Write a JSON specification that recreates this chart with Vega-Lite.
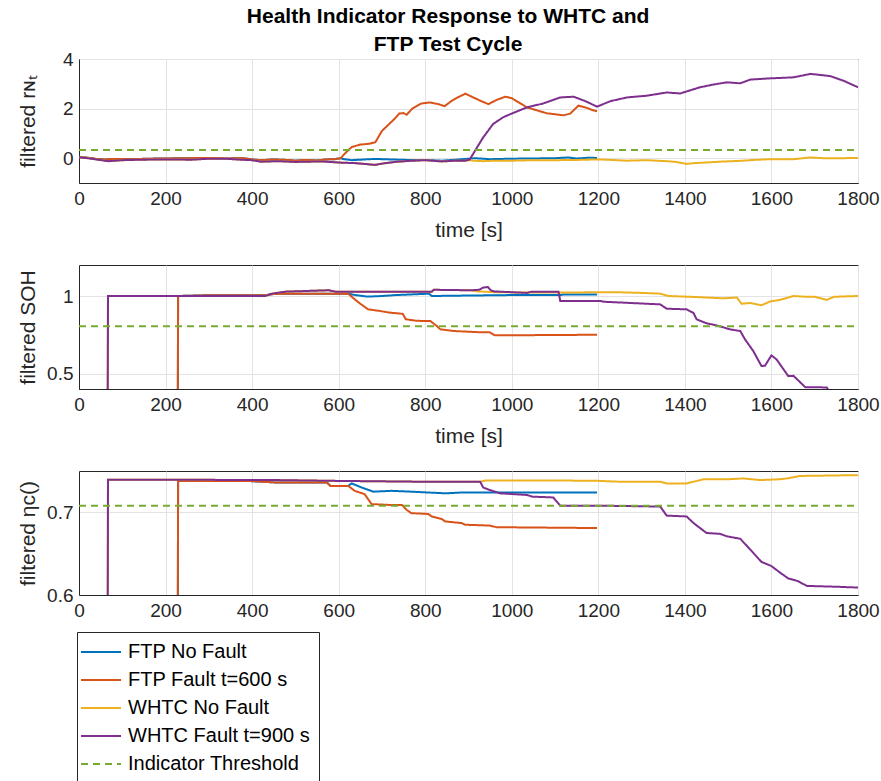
{
  "$schema": "https://vega.github.io/schema/vega-lite/v6.json",
  "padding": {"left": 16, "top": 5, "right": 2, "bottom": 0},
  "title": {"text": ["Health Indicator Response to WHTC and", "FTP Test Cycle"], "font": "Liberation Sans", "fontSize": 21, "fontWeight": "bold", "color": "black", "anchor": "middle", "lineHeight": 28, "offset": -5},
  "datasets": {
    "p1": [
      {"s":"FTP No Fault","t":0,"v":0.04},{"s":"FTP No Fault","t":20,"v":0.02},{"s":"FTP No Fault","t":40,"v":-0.03},{"s":"FTP No Fault","t":60,"v":-0.05},{"s":"FTP No Fault","t":80,"v":-0.03},{"s":"FTP No Fault","t":120,"v":-0.04},{"s":"FTP No Fault","t":160,"v":-0.02},{"s":"FTP No Fault","t":200,"v":-0.01},{"s":"FTP No Fault","t":250,"v":0.0},{"s":"FTP No Fault","t":300,"v":0.01},{"s":"FTP No Fault","t":340,"v":-0.01},{"s":"FTP No Fault","t":380,"v":0.0},{"s":"FTP No Fault","t":400,"v":-0.05},{"s":"FTP No Fault","t":420,"v":-0.08},{"s":"FTP No Fault","t":450,"v":-0.05},{"s":"FTP No Fault","t":480,"v":-0.07},{"s":"FTP No Fault","t":500,"v":-0.1},{"s":"FTP No Fault","t":520,"v":-0.07},{"s":"FTP No Fault","t":550,"v":-0.09},{"s":"FTP No Fault","t":570,"v":-0.05},{"s":"FTP No Fault","t":590,"v":-0.04},{"s":"FTP No Fault","t":605,"v":0.0},{"s":"FTP No Fault","t":610,"v":-0.03},{"s":"FTP No Fault","t":630,"v":-0.08},{"s":"FTP No Fault","t":660,"v":-0.05},{"s":"FTP No Fault","t":684,"v":-0.03},{"s":"FTP No Fault","t":720,"v":-0.05},{"s":"FTP No Fault","t":760,"v":-0.07},{"s":"FTP No Fault","t":800,"v":-0.07},{"s":"FTP No Fault","t":838,"v":-0.1},{"s":"FTP No Fault","t":870,"v":-0.06},{"s":"FTP No Fault","t":915,"v":0.0},{"s":"FTP No Fault","t":950,"v":-0.04},{"s":"FTP No Fault","t":1000,"v":-0.02},{"s":"FTP No Fault","t":1050,"v":-0.01},{"s":"FTP No Fault","t":1100,"v":0.0},{"s":"FTP No Fault","t":1130,"v":0.03},{"s":"FTP No Fault","t":1150,"v":-0.01},{"s":"FTP No Fault","t":1180,"v":0.02},{"s":"FTP No Fault","t":1197,"v":0.01},
      {"s":"FTP Fault t=600 s","t":0,"v":0.04},{"s":"FTP Fault t=600 s","t":20,"v":0.02},{"s":"FTP Fault t=600 s","t":40,"v":-0.03},{"s":"FTP Fault t=600 s","t":60,"v":-0.05},{"s":"FTP Fault t=600 s","t":80,"v":-0.03},{"s":"FTP Fault t=600 s","t":120,"v":-0.04},{"s":"FTP Fault t=600 s","t":160,"v":-0.02},{"s":"FTP Fault t=600 s","t":200,"v":-0.01},{"s":"FTP Fault t=600 s","t":250,"v":0.0},{"s":"FTP Fault t=600 s","t":300,"v":0.01},{"s":"FTP Fault t=600 s","t":340,"v":-0.01},{"s":"FTP Fault t=600 s","t":380,"v":0.0},{"s":"FTP Fault t=600 s","t":400,"v":-0.05},{"s":"FTP Fault t=600 s","t":420,"v":-0.08},{"s":"FTP Fault t=600 s","t":450,"v":-0.05},{"s":"FTP Fault t=600 s","t":480,"v":-0.07},{"s":"FTP Fault t=600 s","t":500,"v":-0.1},{"s":"FTP Fault t=600 s","t":520,"v":-0.07},{"s":"FTP Fault t=600 s","t":550,"v":-0.09},{"s":"FTP Fault t=600 s","t":570,"v":-0.05},{"s":"FTP Fault t=600 s","t":590,"v":-0.04},{"s":"FTP Fault t=600 s","t":605,"v":0.0},{"s":"FTP Fault t=600 s","t":615,"v":0.2},{"s":"FTP Fault t=600 s","t":630,"v":0.45},{"s":"FTP Fault t=600 s","t":650,"v":0.55},{"s":"FTP Fault t=600 s","t":670,"v":0.58},{"s":"FTP Fault t=600 s","t":685,"v":0.65},{"s":"FTP Fault t=600 s","t":700,"v":1.1},{"s":"FTP Fault t=600 s","t":715,"v":1.35},{"s":"FTP Fault t=600 s","t":730,"v":1.6},{"s":"FTP Fault t=600 s","t":740,"v":1.8},{"s":"FTP Fault t=600 s","t":750,"v":1.82},{"s":"FTP Fault t=600 s","t":757,"v":1.75},{"s":"FTP Fault t=600 s","t":770,"v":2.0},{"s":"FTP Fault t=600 s","t":790,"v":2.2},{"s":"FTP Fault t=600 s","t":810,"v":2.25},{"s":"FTP Fault t=600 s","t":830,"v":2.18},{"s":"FTP Fault t=600 s","t":845,"v":2.1},{"s":"FTP Fault t=600 s","t":860,"v":2.3},{"s":"FTP Fault t=600 s","t":875,"v":2.45},{"s":"FTP Fault t=600 s","t":893,"v":2.6},{"s":"FTP Fault t=600 s","t":905,"v":2.5},{"s":"FTP Fault t=600 s","t":927,"v":2.32},{"s":"FTP Fault t=600 s","t":946,"v":2.18},{"s":"FTP Fault t=600 s","t":965,"v":2.35},{"s":"FTP Fault t=600 s","t":985,"v":2.48},{"s":"FTP Fault t=600 s","t":1000,"v":2.42},{"s":"FTP Fault t=600 s","t":1035,"v":2.05},{"s":"FTP Fault t=600 s","t":1060,"v":1.92},{"s":"FTP Fault t=600 s","t":1081,"v":1.81},{"s":"FTP Fault t=600 s","t":1120,"v":1.73},{"s":"FTP Fault t=600 s","t":1135,"v":1.8},{"s":"FTP Fault t=600 s","t":1154,"v":2.12},{"s":"FTP Fault t=600 s","t":1170,"v":2.05},{"s":"FTP Fault t=600 s","t":1185,"v":1.95},{"s":"FTP Fault t=600 s","t":1197,"v":1.89},
      {"s":"WHTC No Fault","t":0,"v":0.04},{"s":"WHTC No Fault","t":20,"v":0.0},{"s":"WHTC No Fault","t":40,"v":-0.05},{"s":"WHTC No Fault","t":68,"v":-0.12},{"s":"WHTC No Fault","t":100,"v":-0.08},{"s":"WHTC No Fault","t":144,"v":-0.06},{"s":"WHTC No Fault","t":200,"v":-0.05},{"s":"WHTC No Fault","t":260,"v":-0.06},{"s":"WHTC No Fault","t":300,"v":-0.02},{"s":"WHTC No Fault","t":337,"v":-0.02},{"s":"WHTC No Fault","t":375,"v":-0.06},{"s":"WHTC No Fault","t":400,"v":-0.08},{"s":"WHTC No Fault","t":421,"v":-0.14},{"s":"WHTC No Fault","t":460,"v":-0.12},{"s":"WHTC No Fault","t":500,"v":-0.15},{"s":"WHTC No Fault","t":529,"v":-0.14},{"s":"WHTC No Fault","t":560,"v":-0.13},{"s":"WHTC No Fault","t":607,"v":-0.18},{"s":"WHTC No Fault","t":640,"v":-0.2},{"s":"WHTC No Fault","t":684,"v":-0.27},{"s":"WHTC No Fault","t":700,"v":-0.22},{"s":"WHTC No Fault","t":730,"v":-0.15},{"s":"WHTC No Fault","t":761,"v":-0.11},{"s":"WHTC No Fault","t":800,"v":-0.08},{"s":"WHTC No Fault","t":838,"v":-0.13},{"s":"WHTC No Fault","t":870,"v":-0.1},{"s":"WHTC No Fault","t":892,"v":-0.1},{"s":"WHTC No Fault","t":903,"v":-0.08},{"s":"WHTC No Fault","t":910,"v":-0.1},{"s":"WHTC No Fault","t":934,"v":-0.12},{"s":"WHTC No Fault","t":960,"v":-0.1},{"s":"WHTC No Fault","t":1000,"v":-0.1},{"s":"WHTC No Fault","t":1050,"v":-0.08},{"s":"WHTC No Fault","t":1100,"v":-0.08},{"s":"WHTC No Fault","t":1150,"v":-0.07},{"s":"WHTC No Fault","t":1197,"v":-0.05},{"s":"WHTC No Fault","t":1220,"v":-0.06},{"s":"WHTC No Fault","t":1266,"v":-0.1},{"s":"WHTC No Fault","t":1312,"v":-0.08},{"s":"WHTC No Fault","t":1358,"v":-0.12},{"s":"WHTC No Fault","t":1380,"v":-0.15},{"s":"WHTC No Fault","t":1404,"v":-0.23},{"s":"WHTC No Fault","t":1420,"v":-0.2},{"s":"WHTC No Fault","t":1443,"v":-0.18},{"s":"WHTC No Fault","t":1481,"v":-0.14},{"s":"WHTC No Fault","t":1535,"v":-0.1},{"s":"WHTC No Fault","t":1560,"v":-0.07},{"s":"WHTC No Fault","t":1597,"v":-0.04},{"s":"WHTC No Fault","t":1651,"v":-0.04},{"s":"WHTC No Fault","t":1690,"v":0.03},{"s":"WHTC No Fault","t":1720,"v":0.0},{"s":"WHTC No Fault","t":1760,"v":0.0},{"s":"WHTC No Fault","t":1800,"v":0.01},
      {"s":"WHTC Fault t=900 s","t":0,"v":0.04},{"s":"WHTC Fault t=900 s","t":20,"v":0.0},{"s":"WHTC Fault t=900 s","t":40,"v":-0.05},{"s":"WHTC Fault t=900 s","t":68,"v":-0.12},{"s":"WHTC Fault t=900 s","t":100,"v":-0.08},{"s":"WHTC Fault t=900 s","t":144,"v":-0.06},{"s":"WHTC Fault t=900 s","t":200,"v":-0.05},{"s":"WHTC Fault t=900 s","t":260,"v":-0.06},{"s":"WHTC Fault t=900 s","t":300,"v":-0.02},{"s":"WHTC Fault t=900 s","t":337,"v":-0.02},{"s":"WHTC Fault t=900 s","t":375,"v":-0.06},{"s":"WHTC Fault t=900 s","t":400,"v":-0.08},{"s":"WHTC Fault t=900 s","t":421,"v":-0.14},{"s":"WHTC Fault t=900 s","t":460,"v":-0.12},{"s":"WHTC Fault t=900 s","t":500,"v":-0.15},{"s":"WHTC Fault t=900 s","t":529,"v":-0.14},{"s":"WHTC Fault t=900 s","t":560,"v":-0.13},{"s":"WHTC Fault t=900 s","t":607,"v":-0.18},{"s":"WHTC Fault t=900 s","t":640,"v":-0.2},{"s":"WHTC Fault t=900 s","t":684,"v":-0.27},{"s":"WHTC Fault t=900 s","t":700,"v":-0.22},{"s":"WHTC Fault t=900 s","t":730,"v":-0.15},{"s":"WHTC Fault t=900 s","t":761,"v":-0.11},{"s":"WHTC Fault t=900 s","t":800,"v":-0.08},{"s":"WHTC Fault t=900 s","t":838,"v":-0.13},{"s":"WHTC Fault t=900 s","t":870,"v":-0.1},{"s":"WHTC Fault t=900 s","t":892,"v":-0.1},{"s":"WHTC Fault t=900 s","t":903,"v":-0.05},{"s":"WHTC Fault t=900 s","t":915,"v":0.3},{"s":"WHTC Fault t=900 s","t":934,"v":0.84},{"s":"WHTC Fault t=900 s","t":957,"v":1.38},{"s":"WHTC Fault t=900 s","t":980,"v":1.65},{"s":"WHTC Fault t=900 s","t":1000,"v":1.8},{"s":"WHTC Fault t=900 s","t":1035,"v":2.05},{"s":"WHTC Fault t=900 s","t":1073,"v":2.21},{"s":"WHTC Fault t=900 s","t":1112,"v":2.45},{"s":"WHTC Fault t=900 s","t":1143,"v":2.48},{"s":"WHTC Fault t=900 s","t":1170,"v":2.3},{"s":"WHTC Fault t=900 s","t":1197,"v":2.08},{"s":"WHTC Fault t=900 s","t":1228,"v":2.3},{"s":"WHTC Fault t=900 s","t":1266,"v":2.45},{"s":"WHTC Fault t=900 s","t":1312,"v":2.52},{"s":"WHTC Fault t=900 s","t":1358,"v":2.65},{"s":"WHTC Fault t=900 s","t":1389,"v":2.61},{"s":"WHTC Fault t=900 s","t":1435,"v":2.86},{"s":"WHTC Fault t=900 s","t":1466,"v":2.97},{"s":"WHTC Fault t=900 s","t":1497,"v":3.06},{"s":"WHTC Fault t=900 s","t":1528,"v":3.02},{"s":"WHTC Fault t=900 s","t":1551,"v":3.17},{"s":"WHTC Fault t=900 s","t":1597,"v":3.22},{"s":"WHTC Fault t=900 s","t":1651,"v":3.26},{"s":"WHTC Fault t=900 s","t":1690,"v":3.4},{"s":"WHTC Fault t=900 s","t":1736,"v":3.31},{"s":"WHTC Fault t=900 s","t":1767,"v":3.12},{"s":"WHTC Fault t=900 s","t":1800,"v":2.86},
      {"s":"Indicator Threshold","t":0,"v":0.33},{"s":"Indicator Threshold","t":1800,"v":0.33}
    ],
    "p2": [
      {"s":"FTP No Fault","t":0,"v":0},{"s":"FTP No Fault","t":228,"v":0},{"s":"FTP No Fault","t":229,"v":1.0},{"s":"FTP No Fault","t":300,"v":1.005},{"s":"FTP No Fault","t":430,"v":1.005},{"s":"FTP No Fault","t":446,"v":1.012},{"s":"FTP No Fault","t":477,"v":1.015},{"s":"FTP No Fault","t":622,"v":1.015},{"s":"FTP No Fault","t":640,"v":1.005},{"s":"FTP No Fault","t":668,"v":0.996},{"s":"FTP No Fault","t":700,"v":1.0},{"s":"FTP No Fault","t":732,"v":1.006},{"s":"FTP No Fault","t":809,"v":1.015},{"s":"FTP No Fault","t":815,"v":1.0},{"s":"FTP No Fault","t":900,"v":1.003},{"s":"FTP No Fault","t":1000,"v":1.006},{"s":"FTP No Fault","t":1112,"v":1.006},{"s":"FTP No Fault","t":1120,"v":1.01},{"s":"FTP No Fault","t":1197,"v":1.01},
      {"s":"FTP Fault t=600 s","t":0,"v":0},{"s":"FTP Fault t=600 s","t":228,"v":0},{"s":"FTP Fault t=600 s","t":229,"v":1.0},{"s":"FTP Fault t=600 s","t":300,"v":1.005},{"s":"FTP Fault t=600 s","t":430,"v":1.005},{"s":"FTP Fault t=600 s","t":446,"v":1.012},{"s":"FTP Fault t=600 s","t":477,"v":1.015},{"s":"FTP Fault t=600 s","t":622,"v":1.015},{"s":"FTP Fault t=600 s","t":637,"v":0.979},{"s":"FTP Fault t=600 s","t":650,"v":0.95},{"s":"FTP Fault t=600 s","t":668,"v":0.914},{"s":"FTP Fault t=600 s","t":694,"v":0.904},{"s":"FTP Fault t=600 s","t":717,"v":0.893},{"s":"FTP Fault t=600 s","t":748,"v":0.885},{"s":"FTP Fault t=600 s","t":755,"v":0.85},{"s":"FTP Fault t=600 s","t":780,"v":0.84},{"s":"FTP Fault t=600 s","t":812,"v":0.838},{"s":"FTP Fault t=600 s","t":827,"v":0.806},{"s":"FTP Fault t=600 s","t":835,"v":0.785},{"s":"FTP Fault t=600 s","t":866,"v":0.774},{"s":"FTP Fault t=600 s","t":920,"v":0.767},{"s":"FTP Fault t=600 s","t":949,"v":0.766},{"s":"FTP Fault t=600 s","t":961,"v":0.746},{"s":"FTP Fault t=600 s","t":1197,"v":0.75},
      {"s":"WHTC No Fault","t":0,"v":0},{"s":"WHTC No Fault","t":66,"v":0},{"s":"WHTC No Fault","t":67,"v":1.0},{"s":"WHTC No Fault","t":430,"v":1.0},{"s":"WHTC No Fault","t":446,"v":1.015},{"s":"WHTC No Fault","t":477,"v":1.028},{"s":"WHTC No Fault","t":577,"v":1.037},{"s":"WHTC No Fault","t":592,"v":1.028},{"s":"WHTC No Fault","t":815,"v":1.028},{"s":"WHTC No Fault","t":820,"v":1.04},{"s":"WHTC No Fault","t":905,"v":1.037},{"s":"WHTC No Fault","t":920,"v":1.03},{"s":"WHTC No Fault","t":957,"v":1.025},{"s":"WHTC No Fault","t":1035,"v":1.022},{"s":"WHTC No Fault","t":1112,"v":1.022},{"s":"WHTC No Fault","t":1235,"v":1.025},{"s":"WHTC No Fault","t":1300,"v":1.02},{"s":"WHTC No Fault","t":1343,"v":1.015},{"s":"WHTC No Fault","t":1362,"v":1.0},{"s":"WHTC No Fault","t":1420,"v":0.994},{"s":"WHTC No Fault","t":1489,"v":0.985},{"s":"WHTC No Fault","t":1520,"v":0.99},{"s":"WHTC No Fault","t":1531,"v":0.95},{"s":"WHTC No Fault","t":1551,"v":0.955},{"s":"WHTC No Fault","t":1577,"v":0.94},{"s":"WHTC No Fault","t":1597,"v":0.965},{"s":"WHTC No Fault","t":1620,"v":0.975},{"s":"WHTC No Fault","t":1651,"v":1.0},{"s":"WHTC No Fault","t":1680,"v":0.995},{"s":"WHTC No Fault","t":1700,"v":0.995},{"s":"WHTC No Fault","t":1728,"v":0.975},{"s":"WHTC No Fault","t":1745,"v":0.995},{"s":"WHTC No Fault","t":1800,"v":1.0},
      {"s":"WHTC Fault t=900 s","t":0,"v":0},{"s":"WHTC Fault t=900 s","t":66,"v":0},{"s":"WHTC Fault t=900 s","t":67,"v":1.0},{"s":"WHTC Fault t=900 s","t":430,"v":1.0},{"s":"WHTC Fault t=900 s","t":446,"v":1.015},{"s":"WHTC Fault t=900 s","t":477,"v":1.028},{"s":"WHTC Fault t=900 s","t":577,"v":1.037},{"s":"WHTC Fault t=900 s","t":592,"v":1.028},{"s":"WHTC Fault t=900 s","t":815,"v":1.028},{"s":"WHTC Fault t=900 s","t":820,"v":1.04},{"s":"WHTC Fault t=900 s","t":905,"v":1.037},{"s":"WHTC Fault t=900 s","t":925,"v":1.04},{"s":"WHTC Fault t=900 s","t":934,"v":1.054},{"s":"WHTC Fault t=900 s","t":945,"v":1.058},{"s":"WHTC Fault t=900 s","t":950,"v":1.04},{"s":"WHTC Fault t=900 s","t":957,"v":1.03},{"s":"WHTC Fault t=900 s","t":1035,"v":1.02},{"s":"WHTC Fault t=900 s","t":1045,"v":1.028},{"s":"WHTC Fault t=900 s","t":1108,"v":1.028},{"s":"WHTC Fault t=900 s","t":1112,"v":0.968},{"s":"WHTC Fault t=900 s","t":1205,"v":0.968},{"s":"WHTC Fault t=900 s","t":1212,"v":0.963},{"s":"WHTC Fault t=900 s","t":1343,"v":0.946},{"s":"WHTC Fault t=900 s","t":1358,"v":0.918},{"s":"WHTC Fault t=900 s","t":1404,"v":0.914},{"s":"WHTC Fault t=900 s","t":1420,"v":0.89},{"s":"WHTC Fault t=900 s","t":1427,"v":0.85},{"s":"WHTC Fault t=900 s","t":1450,"v":0.824},{"s":"WHTC Fault t=900 s","t":1474,"v":0.81},{"s":"WHTC Fault t=900 s","t":1504,"v":0.785},{"s":"WHTC Fault t=900 s","t":1528,"v":0.774},{"s":"WHTC Fault t=900 s","t":1539,"v":0.72},{"s":"WHTC Fault t=900 s","t":1558,"v":0.645},{"s":"WHTC Fault t=900 s","t":1577,"v":0.548},{"s":"WHTC Fault t=900 s","t":1585,"v":0.55},{"s":"WHTC Fault t=900 s","t":1600,"v":0.617},{"s":"WHTC Fault t=900 s","t":1612,"v":0.59},{"s":"WHTC Fault t=900 s","t":1639,"v":0.483},{"s":"WHTC Fault t=900 s","t":1651,"v":0.485},{"s":"WHTC Fault t=900 s","t":1678,"v":0.412},{"s":"WHTC Fault t=900 s","t":1728,"v":0.41},{"s":"WHTC Fault t=900 s","t":1740,"v":0.35},{"s":"WHTC Fault t=900 s","t":1800,"v":0.3},
      {"s":"Indicator Threshold","t":0,"v":0.805},{"s":"Indicator Threshold","t":1800,"v":0.805}
    ],
    "p3": [
      {"s":"FTP No Fault","t":0,"v":0.5},{"s":"FTP No Fault","t":228,"v":0.5},{"s":"FTP No Fault","t":229,"v":0.738},{"s":"FTP No Fault","t":389,"v":0.738},{"s":"FTP No Fault","t":458,"v":0.736},{"s":"FTP No Fault","t":573,"v":0.736},{"s":"FTP No Fault","t":581,"v":0.732},{"s":"FTP No Fault","t":622,"v":0.732},{"s":"FTP No Fault","t":630,"v":0.735},{"s":"FTP No Fault","t":653,"v":0.73},{"s":"FTP No Fault","t":680,"v":0.725},{"s":"FTP No Fault","t":722,"v":0.726},{"s":"FTP No Fault","t":768,"v":0.725},{"s":"FTP No Fault","t":846,"v":0.723},{"s":"FTP No Fault","t":884,"v":0.724},{"s":"FTP No Fault","t":1000,"v":0.724},{"s":"FTP No Fault","t":1197,"v":0.724},
      {"s":"FTP Fault t=600 s","t":0,"v":0.5},{"s":"FTP Fault t=600 s","t":228,"v":0.5},{"s":"FTP Fault t=600 s","t":229,"v":0.738},{"s":"FTP Fault t=600 s","t":389,"v":0.738},{"s":"FTP Fault t=600 s","t":458,"v":0.736},{"s":"FTP Fault t=600 s","t":573,"v":0.736},{"s":"FTP Fault t=600 s","t":581,"v":0.732},{"s":"FTP Fault t=600 s","t":622,"v":0.732},{"s":"FTP Fault t=600 s","t":637,"v":0.726},{"s":"FTP Fault t=600 s","t":660,"v":0.722},{"s":"FTP Fault t=600 s","t":676,"v":0.71},{"s":"FTP Fault t=600 s","t":715,"v":0.709},{"s":"FTP Fault t=600 s","t":746,"v":0.709},{"s":"FTP Fault t=600 s","t":757,"v":0.703},{"s":"FTP Fault t=600 s","t":768,"v":0.699},{"s":"FTP Fault t=600 s","t":807,"v":0.698},{"s":"FTP Fault t=600 s","t":815,"v":0.695},{"s":"FTP Fault t=600 s","t":838,"v":0.692},{"s":"FTP Fault t=600 s","t":846,"v":0.689},{"s":"FTP Fault t=600 s","t":884,"v":0.687},{"s":"FTP Fault t=600 s","t":892,"v":0.685},{"s":"FTP Fault t=600 s","t":949,"v":0.684},{"s":"FTP Fault t=600 s","t":965,"v":0.682},{"s":"FTP Fault t=600 s","t":1197,"v":0.681},
      {"s":"WHTC No Fault","t":0,"v":0.5},{"s":"WHTC No Fault","t":66,"v":0.5},{"s":"WHTC No Fault","t":67,"v":0.7394},{"s":"WHTC No Fault","t":430,"v":0.7392},{"s":"WHTC No Fault","t":600,"v":0.738},{"s":"WHTC No Fault","t":800,"v":0.737},{"s":"WHTC No Fault","t":927,"v":0.737},{"s":"WHTC No Fault","t":940,"v":0.7386},{"s":"WHTC No Fault","t":1189,"v":0.7383},{"s":"WHTC No Fault","t":1251,"v":0.737},{"s":"WHTC No Fault","t":1343,"v":0.737},{"s":"WHTC No Fault","t":1358,"v":0.735},{"s":"WHTC No Fault","t":1404,"v":0.735},{"s":"WHTC No Fault","t":1443,"v":0.74},{"s":"WHTC No Fault","t":1497,"v":0.74},{"s":"WHTC No Fault","t":1535,"v":0.741},{"s":"WHTC No Fault","t":1574,"v":0.739},{"s":"WHTC No Fault","t":1620,"v":0.74},{"s":"WHTC No Fault","t":1636,"v":0.741},{"s":"WHTC No Fault","t":1666,"v":0.744},{"s":"WHTC No Fault","t":1800,"v":0.745},
      {"s":"WHTC Fault t=900 s","t":0,"v":0.5},{"s":"WHTC Fault t=900 s","t":66,"v":0.5},{"s":"WHTC Fault t=900 s","t":67,"v":0.7394},{"s":"WHTC Fault t=900 s","t":430,"v":0.7392},{"s":"WHTC Fault t=900 s","t":600,"v":0.738},{"s":"WHTC Fault t=900 s","t":800,"v":0.737},{"s":"WHTC Fault t=900 s","t":927,"v":0.737},{"s":"WHTC Fault t=900 s","t":934,"v":0.73},{"s":"WHTC Fault t=900 s","t":949,"v":0.727},{"s":"WHTC Fault t=900 s","t":973,"v":0.723},{"s":"WHTC Fault t=900 s","t":1035,"v":0.721},{"s":"WHTC Fault t=900 s","t":1047,"v":0.719},{"s":"WHTC Fault t=900 s","t":1096,"v":0.718},{"s":"WHTC Fault t=900 s","t":1112,"v":0.708},{"s":"WHTC Fault t=900 s","t":1212,"v":0.708},{"s":"WHTC Fault t=900 s","t":1343,"v":0.707},{"s":"WHTC Fault t=900 s","t":1358,"v":0.696},{"s":"WHTC Fault t=900 s","t":1404,"v":0.695},{"s":"WHTC Fault t=900 s","t":1420,"v":0.687},{"s":"WHTC Fault t=900 s","t":1450,"v":0.675},{"s":"WHTC Fault t=900 s","t":1481,"v":0.674},{"s":"WHTC Fault t=900 s","t":1497,"v":0.671},{"s":"WHTC Fault t=900 s","t":1528,"v":0.668},{"s":"WHTC Fault t=900 s","t":1551,"v":0.655},{"s":"WHTC Fault t=900 s","t":1577,"v":0.64},{"s":"WHTC Fault t=900 s","t":1600,"v":0.635},{"s":"WHTC Fault t=900 s","t":1620,"v":0.627},{"s":"WHTC Fault t=900 s","t":1639,"v":0.62},{"s":"WHTC Fault t=900 s","t":1660,"v":0.617},{"s":"WHTC Fault t=900 s","t":1682,"v":0.611},{"s":"WHTC Fault t=900 s","t":1750,"v":0.61},{"s":"WHTC Fault t=900 s","t":1800,"v":0.609},
      {"s":"Indicator Threshold","t":0,"v":0.708},{"s":"Indicator Threshold","t":1800,"v":0.708}
    ]
  },
  "spacing": 23,
  "vconcat": [
    {
      "width": 779, "height": 124,
      "data": {"name": "p1"},
      "encoding": {
        "x": {"field": "t", "type": "quantitative", "scale": {"domain": [0, 1800], "nice": false}, "axis": {"values": [0,200,400,600,800,1000,1200,1400,1600,1800], "format": "d", "title": "time [s]"}},
        "y": {"field": "v", "type": "quantitative", "scale": {"domain": [-1, 4], "nice": false, "zero": false}, "axis": {"values": [0, 2, 4], "format": "~g", "title": "filtered rɴₜ"}},
        "color": {"field": "s", "type": "nominal", "scale": {"domain": ["FTP No Fault","FTP Fault t=600 s","WHTC No Fault","WHTC Fault t=900 s","Indicator Threshold"], "range": ["#0072BD","#D95319","#EDB120","#7E2F8E","#77AC30"]}, "legend": {"title": null}},
        "strokeDash": {"field": "s", "type": "nominal", "scale": {"domain": ["FTP No Fault","FTP Fault t=600 s","WHTC No Fault","WHTC Fault t=900 s","Indicator Threshold"], "range": [[1,0],[1,0],[1,0],[1,0],[7,5]]}, "legend": {"title": null}}
      },
      "layer": [
        {"transform": [{"filter": "datum.s === 'FTP No Fault'"}], "mark": {"type": "line", "clip": true, "strokeWidth": 2}},
        {"transform": [{"filter": "datum.s === 'FTP Fault t=600 s'"}], "mark": {"type": "line", "clip": true, "strokeWidth": 2}},
        {"transform": [{"filter": "datum.s === 'WHTC No Fault'"}], "mark": {"type": "line", "clip": true, "strokeWidth": 2}},
        {"transform": [{"filter": "datum.s === 'WHTC Fault t=900 s'"}], "mark": {"type": "line", "clip": true, "strokeWidth": 2}},
        {"transform": [{"filter": "datum.s === 'Indicator Threshold'"}], "mark": {"type": "line", "clip": true, "strokeWidth": 2}}
      ]
    },
    {
      "width": 779, "height": 124,
      "data": {"name": "p2"},
      "encoding": {
        "x": {"field": "t", "type": "quantitative", "scale": {"domain": [0, 1800], "nice": false}, "axis": {"values": [0,200,400,600,800,1000,1200,1400,1600,1800], "format": "d", "title": "time [s]"}},
        "y": {"field": "v", "type": "quantitative", "scale": {"domain": [0.4, 1.2], "nice": false, "zero": false}, "axis": {"values": [0.5, 1], "format": "~g", "title": "filtered SOH"}},
        "color": {"field": "s", "type": "nominal", "scale": {"domain": ["FTP No Fault","FTP Fault t=600 s","WHTC No Fault","WHTC Fault t=900 s","Indicator Threshold"], "range": ["#0072BD","#D95319","#EDB120","#7E2F8E","#77AC30"]}, "legend": {"title": null}},
        "strokeDash": {"field": "s", "type": "nominal", "scale": {"domain": ["FTP No Fault","FTP Fault t=600 s","WHTC No Fault","WHTC Fault t=900 s","Indicator Threshold"], "range": [[1,0],[1,0],[1,0],[1,0],[7,5]]}, "legend": {"title": null}}
      },
      "layer": [
        {"transform": [{"filter": "datum.s === 'FTP No Fault'"}], "mark": {"type": "line", "clip": true, "strokeWidth": 2}},
        {"transform": [{"filter": "datum.s === 'FTP Fault t=600 s'"}], "mark": {"type": "line", "clip": true, "strokeWidth": 2}},
        {"transform": [{"filter": "datum.s === 'WHTC No Fault'"}], "mark": {"type": "line", "clip": true, "strokeWidth": 2}},
        {"transform": [{"filter": "datum.s === 'WHTC Fault t=900 s'"}], "mark": {"type": "line", "clip": true, "strokeWidth": 2}},
        {"transform": [{"filter": "datum.s === 'Indicator Threshold'"}], "mark": {"type": "line", "clip": true, "strokeWidth": 2}}
      ]
    },
    {
      "width": 779, "height": 124,
      "data": {"name": "p3"},
      "encoding": {
        "x": {"field": "t", "type": "quantitative", "scale": {"domain": [0, 1800], "nice": false}, "axis": {"values": [0,200,400,600,800,1000,1200,1400,1600,1800], "format": "d", "title": null}},
        "y": {"field": "v", "type": "quantitative", "scale": {"domain": [0.6, 0.75], "nice": false, "zero": false}, "axis": {"values": [0.6, 0.7], "format": "~g", "title": "filtered ηc()"}},
        "color": {"field": "s", "type": "nominal", "scale": {"domain": ["FTP No Fault","FTP Fault t=600 s","WHTC No Fault","WHTC Fault t=900 s","Indicator Threshold"], "range": ["#0072BD","#D95319","#EDB120","#7E2F8E","#77AC30"]}, "legend": {"title": null}},
        "strokeDash": {"field": "s", "type": "nominal", "scale": {"domain": ["FTP No Fault","FTP Fault t=600 s","WHTC No Fault","WHTC Fault t=900 s","Indicator Threshold"], "range": [[1,0],[1,0],[1,0],[1,0],[7,5]]}, "legend": {"title": null}}
      },
      "layer": [
        {"transform": [{"filter": "datum.s === 'FTP No Fault'"}], "mark": {"type": "line", "clip": true, "strokeWidth": 2}},
        {"transform": [{"filter": "datum.s === 'FTP Fault t=600 s'"}], "mark": {"type": "line", "clip": true, "strokeWidth": 2}},
        {"transform": [{"filter": "datum.s === 'WHTC No Fault'"}], "mark": {"type": "line", "clip": true, "strokeWidth": 2}},
        {"transform": [{"filter": "datum.s === 'WHTC Fault t=900 s'"}], "mark": {"type": "line", "clip": true, "strokeWidth": 2}},
        {"transform": [{"filter": "datum.s === 'Indicator Threshold'"}], "mark": {"type": "line", "clip": true, "strokeWidth": 2}}
      ]
    }
  ],
  "config": {
    "font": "Liberation Sans",
    "view": {"stroke": "#262626", "strokeWidth": 1},
    "axis": {"labelFont": "Liberation Sans", "titleFont": "Liberation Sans", "labelFontSize": 19, "titleFontSize": 21, "titleFontWeight": "normal", "labelColor": "#262626", "titleColor": "#262626", "gridColor": "#e3e3e3", "domainColor": "#262626", "tickColor": "#262626", "tickSize": 0, "labelFlush": false},
    "axisX": {"labelPadding": 6, "titlePadding": 11},
    "axisY": {"labelPadding": 6, "titleX": -41},
    "legend": {"orient": "none", "legendX": -2, "legendY": 573, "symbolType": "M-2,0H2", "symbolSize": 400, "symbolStrokeWidth": 2, "labelFont": "Liberation Sans", "labelFontSize": 20, "labelColor": "black", "labelLimit": 400, "strokeColor": "#262626", "fillColor": "white", "padding": 9, "rowPadding": 7, "symbolOffset": 4, "labelOffset": 16, "cornerRadius": 0}
  }
}
